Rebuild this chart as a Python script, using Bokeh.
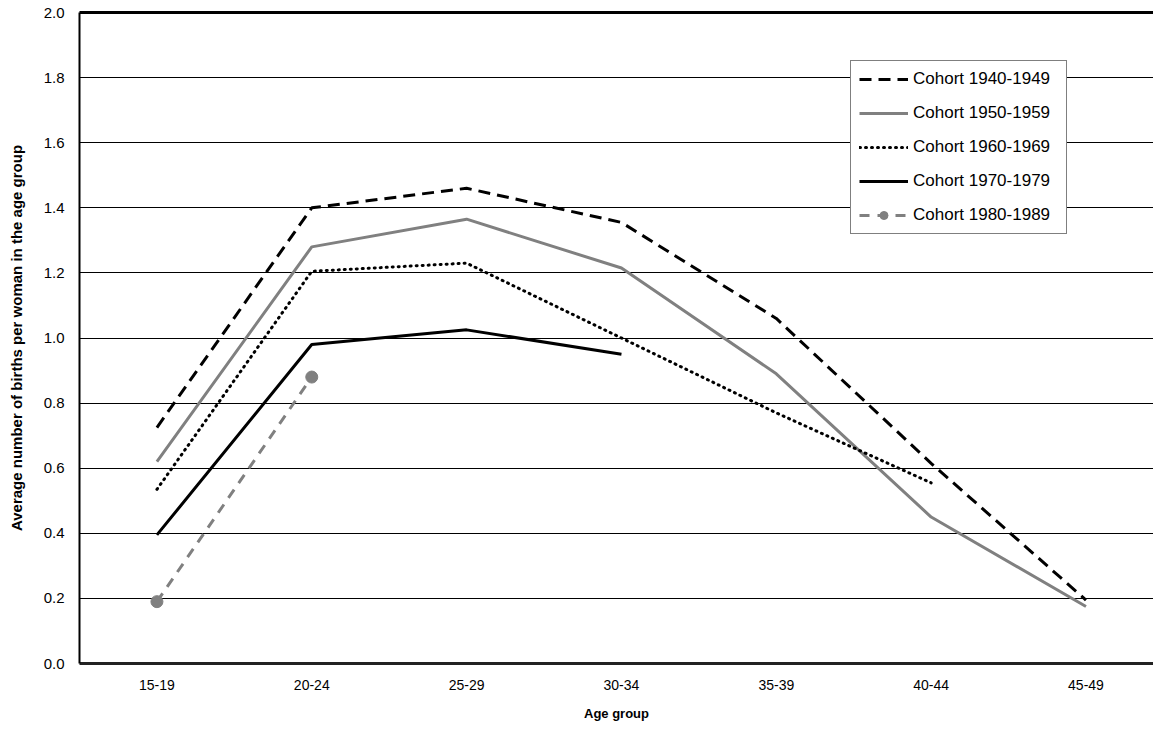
from bokeh.plotting import figure
from bokeh.models import (Range1d, FixedTicker, LinearAxis, Legend, LegendItem,
                          NumeralTickFormatter)
from bokeh.embed import file_html
from bokeh.resources import INLINE

# ---------------- data ----------------
age_groups = ["15-19", "20-24", "25-29", "30-34", "35-39", "40-44", "45-49"]
cohort_1940_1949 = [0.725, 1.40, 1.46, 1.355, 1.06, 0.615, 0.195]
cohort_1950_1959 = [0.62, 1.28, 1.365, 1.215, 0.89, 0.45, 0.175]
cohort_1960_1969 = [0.535, 1.205, 1.23, 1.0, 0.77, 0.555]
cohort_1970_1979 = [0.395, 0.98, 1.025, 0.95]
cohort_1980_1989 = [0.19, 0.88]
y_ticks = [0.0, 0.2, 0.4, 0.6, 0.8, 1.0, 1.2, 1.4, 1.6, 1.8, 2.0]

FONT = "Liberation Sans"
GRAY = "#808080"

xi = list(range(len(age_groups)))

p = figure(width=1153, height=733, output_backend="svg", toolbar_location=None,
           x_range=Range1d(-0.5, 6.436), y_range=Range1d(0, 2.0),
           min_border_left=79, min_border_right=0, min_border_top=12,
           min_border_bottom=70, outline_line_color=None)

# axes
xa = p.xaxis[0]
xa.ticker = FixedTicker(ticks=xi)
xa.major_label_overrides = {i: lab for i, lab in zip(xi, age_groups)}
xa.axis_label = "Age group"
ya = p.yaxis[0]
ya.ticker = FixedTicker(ticks=y_ticks)
ya.formatter = NumeralTickFormatter(format="0.0")
ya.axis_label = "Average number of births per woman in the age group"

for ax in (xa, ya):
    ax.major_tick_line_color = None
    ax.minor_tick_line_color = None
    ax.major_tick_out = 0
    ax.major_tick_in = 0
    ax.minor_tick_out = 0
    ax.minor_tick_in = 0
    ax.axis_line_color = "black"
    ax.major_label_text_font = FONT
    ax.major_label_text_color = "black"
    ax.axis_label_text_font = FONT
    ax.axis_label_text_font_style = "bold"
    ax.axis_label_text_color = "black"

xa.axis_line_width = 3
xa.axis_line_color = "#222222"
xa.major_label_text_font_size = "14px"
xa.major_label_standoff = 16
xa.axis_label_text_font_size = "13px"
xa.axis_label_standoff = 13
ya.axis_line_width = 2
ya.major_label_text_font_size = "15px"
ya.major_label_standoff = 15
ya.axis_label_text_font_size = "15px"
ya.axis_label_standoff = 16

# top frame line
top = LinearAxis(ticker=FixedTicker(ticks=[]), axis_line_width=3,
                 axis_line_color="black", major_tick_line_color=None,
                 minor_tick_line_color=None, major_tick_out=0, minor_tick_out=0,
                 major_label_text_font_size="0px")
p.add_layout(top, "above")

# grid
p.xgrid.grid_line_color = None
p.ygrid.ticker = FixedTicker(ticks=y_ticks)
p.ygrid.grid_line_color = "black"
p.ygrid.grid_line_width = 1

# series
r1 = p.line(xi[:len(cohort_1940_1949)], cohort_1940_1949, line_color="black",
            line_width=3, line_dash="12 7")
r2 = p.line(xi[:len(cohort_1950_1959)], cohort_1950_1959, line_color=GRAY,
            line_width=3)
r3 = p.line(xi[:len(cohort_1960_1969)], cohort_1960_1969, line_color="black",
            line_width=3, line_dash="1 5", line_cap="round")
r4 = p.line(xi[:len(cohort_1970_1979)], cohort_1970_1979, line_color="black",
            line_width=3)
r5 = p.line(xi[:len(cohort_1980_1989)], cohort_1980_1989, line_color=GRAY,
            line_width=3, line_dash="10 8")
r5b = p.scatter(xi[:len(cohort_1980_1989)], cohort_1980_1989, size=12,
                fill_color=GRAY, line_color=GRAY)

legend = Legend(items=[
    LegendItem(label="Cohort 1940-1949", renderers=[r1]),
    LegendItem(label="Cohort 1950-1959", renderers=[r2]),
    LegendItem(label="Cohort 1960-1969", renderers=[r3]),
    LegendItem(label="Cohort 1970-1979", renderers=[r4]),
    LegendItem(label="Cohort 1980-1989", renderers=[r5, r5b]),
], location=(771, 429))
legend.label_text_font = FONT
legend.label_text_font_size = "17px"
legend.label_text_color = "black"
legend.glyph_width = 49
legend.glyph_height = 20
legend.label_height = 20
legend.label_width = 145
legend.label_standoff = 5
legend.spacing = 14
legend.padding = 8
legend.margin = 0
legend.border_line_color = "black"
legend.border_line_width = 1
legend.background_fill_color = "white"
legend.background_fill_alpha = 1
p.add_layout(legend)

open("out.html", "w").write(file_html(p, INLINE))
